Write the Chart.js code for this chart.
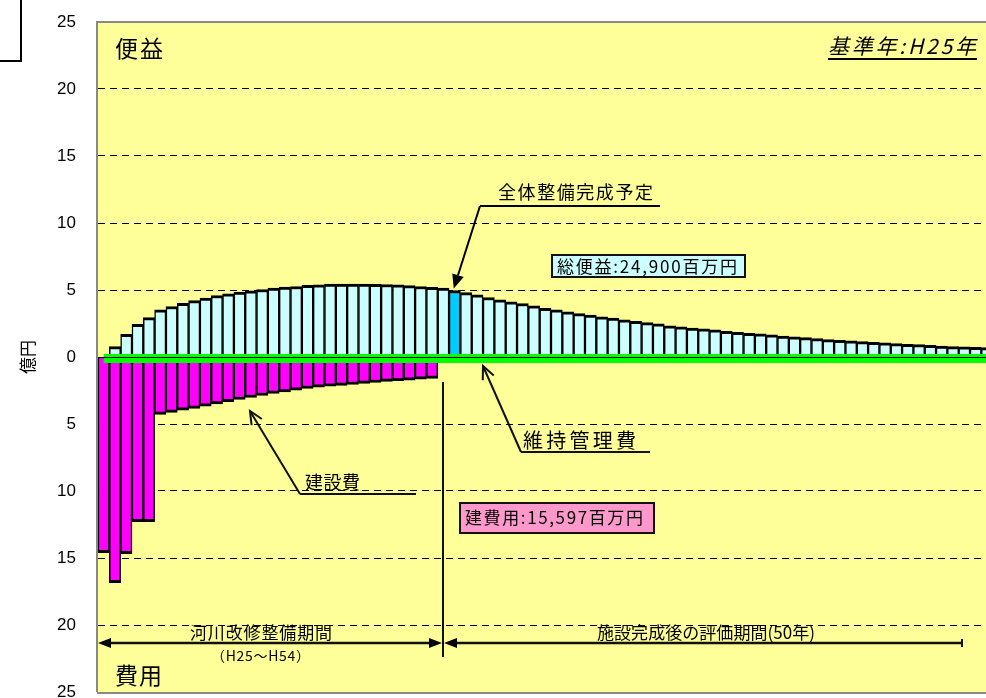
<!DOCTYPE html>
<html>
<head>
<meta charset="utf-8">
<script src="https://cdn.jsdelivr.net/npm/chart.js@4.4.1/dist/chart.umd.min.js"></script>
<style>
  html, body { margin: 0; padding: 0; background: #fff; overflow: hidden; width: 986px; height: 698px; }
  #wrap { position: relative; width: 1004px; height: 698px; }
  #chart { display: block; }
  #corner { position: absolute; left: -10px; top: -10px; width: 28px; height: 68px; border: 2px solid #000; }
</style>
</head>
<body>
<div id="wrap"><canvas id="chart" width="1004" height="698"></canvas></div>
<div id="corner"></div>
<script>
  // 年次 (H25〜H104)
  const years = Array.from({ length: 80 }, (_, i) => 'H' + (25 + i));

  // 便益 (億円)
  const benefit = [
    0, 0.77, 1.7, 2.44, 2.94, 3.52, 3.77, 4.01, 4.21, 4.39,
    4.59, 4.72, 4.84, 4.94, 5.04, 5.14, 5.21, 5.26, 5.34, 5.39,
    5.44, 5.45, 5.45, 5.45, 5.43, 5.41, 5.38, 5.33, 5.26, 5.2,
    5.14, 4.96, 4.81, 4.64, 4.44, 4.27, 4.12, 3.99, 3.82, 3.64,
    3.52, 3.37, 3.24, 3.12, 2.99, 2.9, 2.77, 2.67, 2.57, 2.47,
    2.32, 2.25, 2.15, 2.1, 2.02, 1.92, 1.85, 1.77, 1.72, 1.65,
    1.57, 1.5, 1.45, 1.37, 1.3, 1.25, 1.2, 1.15, 1.1, 1.05,
    1.0, 0.95, 0.92, 0.88, 0.82, 0.77, 0.75, 0.72, 0.7, 0.67
  ];

  // 建設費 (億円, 下向き)
  const construction = [
    -14.6, -16.85, -14.67, -12.28, -12.28, -4.28, -4.13, -3.97, -3.83, -3.67,
    -3.5, -3.34, -3.17, -3.02, -2.87, -2.72, -2.6, -2.47, -2.35, -2.25,
    -2.18, -2.12, -2.05, -1.97, -1.9, -1.82, -1.77, -1.72, -1.65, -1.6
  ];

  // 維持管理費 (億円)
  const maintenance = years.map(() => -0.12);

  const completionIndex = 31; // 全体整備完成予定
  const yTicks = [-25, -20, -15, -10, -5, 0, 5, 10, 15, 20, 25];

  const JP = '"Noto Sans CJK JP", "Noto Sans", sans-serif';

  function fitText(ctx, s, x1, x2, cy, font) {
    ctx.font = font;
    ctx.letterSpacing = '0px';
    const w = ctx.measureText(s).width;
    const n = [...s].length;
    const sp = n > 1 ? (x2 - x1 - w) / (n - 1) : 0;
    ctx.letterSpacing = sp.toFixed(2) + 'px';
    ctx.textAlign = 'left';
    ctx.textBaseline = 'middle';
    ctx.fillText(s, x1, cy);
    ctx.letterSpacing = '0px';
  }

  function arrow(ctx, x1, y1, x2, y2, len, half, open) {
    const ang = Math.atan2(y2 - y1, x2 - x1);
    const bx = x2 - len * Math.cos(ang);
    const by = y2 - len * Math.sin(ang);
    const px = half * Math.sin(ang);
    const py = half * Math.cos(ang);
    ctx.beginPath();
    ctx.moveTo(x1, y1);
    ctx.lineTo(open ? x2 : bx, open ? y2 : by);
    ctx.stroke();
    ctx.beginPath();
    if (open) {
      ctx.moveTo(bx + px, by - py);
      ctx.lineTo(x2, y2);
      ctx.lineTo(bx - px, by + py);
      ctx.stroke();
    } else {
      ctx.moveTo(x2, y2);
      ctx.lineTo(bx + px, by - py);
      ctx.lineTo(bx - px, by + py);
      ctx.closePath();
      ctx.fill();
    }
  }

  function box(ctx, x, y, w, h, fill) {
    ctx.fillStyle = fill;
    ctx.fillRect(x, y, w, h);
    ctx.strokeStyle = '#111';
    ctx.lineWidth = 2;
    ctx.strokeRect(x, y, w, h);
  }

  const notes = {
    id: 'notes',
    beforeDraw(chart) {
      const { ctx, chartArea: a } = chart;
      ctx.save();
      ctx.fillStyle = '#FFFF99';
      ctx.fillRect(a.left, a.top, a.right - a.left, a.bottom - a.top);
      ctx.restore();
    },
    afterDatasetsDraw(chart) {
      const { ctx, chartArea: a, scales: { y } } = chart;
      const y0 = Math.round(y.getPixelForValue(0)) + 0.5;
      ctx.save();
      ctx.strokeStyle = '#000';
      ctx.lineWidth = 1;
      ctx.beginPath();
      ctx.moveTo(a.left, y0);
      ctx.lineTo(a.right, y0);
      ctx.stroke();
      ctx.restore();
    },
    afterDraw(chart) {
      const { ctx, chartArea: a, scales: { x, y } } = chart;
      ctx.save();

      // 枠
      ctx.strokeStyle = '#888';
      ctx.lineWidth = 2;
      ctx.beginPath();
      ctx.moveTo(a.left - 1, a.bottom);
      ctx.lineTo(a.left - 1, a.top);
      ctx.lineTo(a.right, a.top);
      ctx.moveTo(a.left - 1, a.bottom + 1);
      ctx.lineTo(a.right, a.bottom + 1);
      ctx.stroke();

      ctx.fillStyle = '#000';
      ctx.strokeStyle = '#000';

      fitText(ctx, '便益', 115, 163, 48, '23px ' + JP);
      fitText(ctx, '費用', 115, 162, 675, '23px ' + JP);

      fitText(ctx, '基準年:H25年', 828, 976, 46, 'italic 21px ' + JP);
      ctx.lineWidth = 2;
      ctx.beginPath();
      ctx.moveTo(828, 59);
      ctx.lineTo(977, 59);
      ctx.stroke();

      // 全体整備完成予定
      const tipX = x.getPixelForValue(completionIndex);
      const tipY = y.getPixelForValue(benefit[completionIndex]);
      fitText(ctx, '全体整備完成予定', 498, 653, 192, '18px ' + JP);
      ctx.lineWidth = 2;
      ctx.beginPath();
      ctx.moveTo(480, 206);
      ctx.lineTo(660, 206);
      ctx.stroke();
      arrow(ctx, 480, 206, tipX - 1, tipY - 2, 14, 6, false);

      // 総便益
      box(ctx, 552, 255, 193, 22, '#CCFFFF');
      ctx.fillStyle = '#000';
      fitText(ctx, '総便益:24,900百万円', 557, 737, 266.5, '17px ' + JP);

      // 維持管理費
      fitText(ctx, '維持管理費', 523, 636, 440, '20px ' + JP);
      ctx.lineWidth = 2;
      ctx.beginPath();
      ctx.moveTo(521, 452);
      ctx.lineTo(650, 452);
      ctx.stroke();
      arrow(ctx, 521, 452, 483, 366, 13, 6, true);

      // 建設費
      fitText(ctx, '建設費', 305, 360, 482, '18px ' + JP);
      ctx.beginPath();
      ctx.moveTo(300, 494);
      ctx.lineTo(416, 494);
      ctx.stroke();
      arrow(ctx, 300, 494, 250, 411, 13, 6, true);

      // 建費用
      box(ctx, 460, 503, 194, 30, '#FF99CC');
      ctx.fillStyle = '#000';
      fitText(ctx, '建費用:15,597百万円', 465, 643, 518, '17px ' + JP);

      // 期間区分
      const xd = 443;
      ctx.lineWidth = 2;
      ctx.beginPath();
      ctx.moveTo(xd, 382);
      ctx.lineTo(xd, 657);
      ctx.stroke();

      const ya = 643;
      ctx.lineWidth = 2.5;
      arrow(ctx, 270, ya, a.left, ya, 13, 5, false);
      arrow(ctx, 270, ya, xd - 1, ya, 13, 5, false);
      arrow(ctx, 962, ya, xd + 1, ya, 13, 5, false);
      ctx.lineWidth = 2;
      ctx.beginPath();
      ctx.moveTo(962, ya - 4);
      ctx.lineTo(962, ya + 4);
      ctx.stroke();

      fitText(ctx, '河川改修整備期間', 190, 332, 633, '17px ' + JP);
      fitText(ctx, '（H25～H54）', 211, 310, 656, '14px ' + JP);
      fitText(ctx, '施設完成後の評価期間(50年)', 597, 815, 633, '17px ' + JP);

      ctx.restore();
    }
  };

  new Chart(document.getElementById('chart'), {
    type: 'bar',
    data: {
      labels: years,
      datasets: [
        {
          type: 'line',
          label: '維持管理費',
          data: maintenance,
          borderColor: '#00FF00',
          borderWidth: 9,
          pointRadius: 0,
          fill: false,
          order: 0,
        },
        {
          label: '便益',
          data: benefit,
          backgroundColor: benefit.map((_, i) => (i === completionIndex ? '#00CCFF' : '#CCFFFF')),
          borderColor: '#000',
          borderWidth: { top: 3, bottom: 1, left: 1.5, right: 1.5 },
          borderSkipped: false,
          categoryPercentage: 1,
          barPercentage: 1,
          order: 1,
        },
        {
          label: '建設費',
          data: construction,
          backgroundColor: '#FF00FF',
          borderColor: '#000',
          borderWidth: { top: 1, bottom: 3, left: 1.5, right: 1.5 },
          borderSkipped: false,
          categoryPercentage: 1,
          barPercentage: 1,
          order: 1,
        },
      ],
    },
    options: {
      responsive: false,
      animation: false,
      layout: { padding: { top: 22, bottom: 6, left: 0, right: 0 } },
      plugins: { legend: { display: false }, tooltip: { enabled: false } },
      scales: {
        x: { display: false, stacked: true },
        y: {
          min: -25,
          max: 25,
          afterBuildTicks(scale) { scale.ticks = yTicks.map((v) => ({ value: v })); },
          afterFit(scale) {
            scale.width = 98;
            scale.paddingTop = 0;
            scale.paddingBottom = 0;
          },
          border: { display: false, dash: [7, 5] },
          grid: {
            drawTicks: false,
            color: (c) => (Math.abs(c.tick.value) === 25 || c.tick.value === 0 ? 'rgba(0,0,0,0)' : '#000'),
            lineWidth: 1,
          },
          ticks: {
            padding: 22,
            color: '#000',
            font: { family: 'Arial, "Liberation Sans"', size: 17 },
            callback: (v) => Math.abs(v),
          },
          title: {
            display: true,
            text: '億円',
            color: '#000',
            font: { family: JP, size: 17 },
            padding: { top: 17, bottom: 0 },
          },
        },
      },
    },
    plugins: [notes],
  });
</script>
</body>
</html>
